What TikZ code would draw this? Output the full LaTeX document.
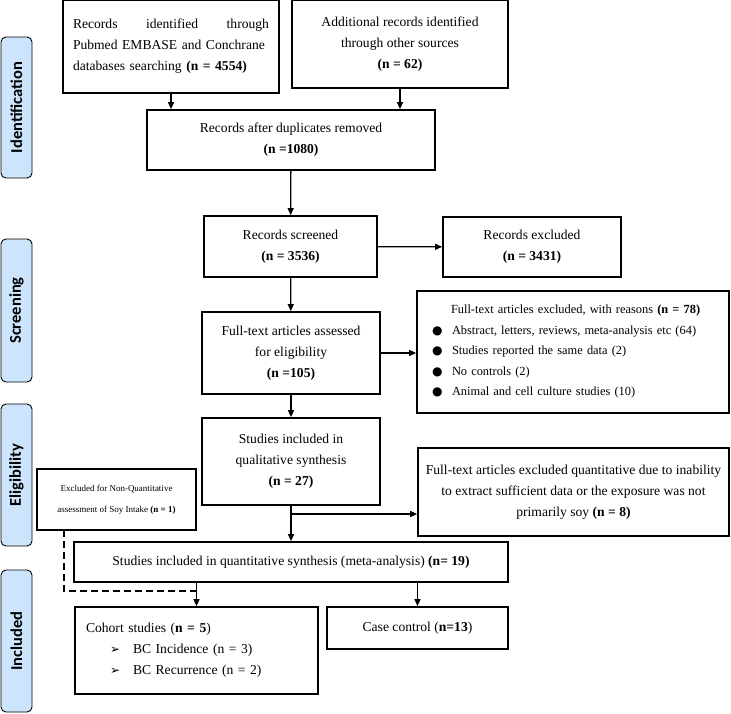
\documentclass[tikz,border=0pt]{standalone}
\usepackage{fontspec}
\setmainfont{Liberation Serif}
\newfontfamily\sidefont{Carlito}
\newfontfamily\symfont{DejaVu Sans}
\usetikzlibrary{positioning, arrows.meta}

\definecolor{sideblue}{RGB}{204,229,252}

\begin{document}
\begin{tikzpicture}[x=1pt, y=-1pt, >={Triangle[width=6pt,length=7pt]},
    box/.style={draw, line width=1.7pt, inner sep=0pt, align=center,
        font=\fontsize{13.6}{21}\selectfont},
    smallbox/.style={box, font=\fontsize{9}{21}\selectfont},
    stage/.style={draw, line width=0.9pt, rounded corners=5pt, fill=sideblue,
        rotate=90, minimum height=31pt, inner sep=0pt,
        font=\sidefont\bfseries\fontsize{16.5}{18}\selectfont},
    link/.style={->, line width=1.3pt},
    ]
    \useasboundingbox (0,0) rectangle (731,713);

    % stages on the left
    \node[stage, minimum width=141pt] (ident) at (16.5,107.5) {Identification};
    \node[stage, minimum width=143pt] (screen) at (16.5,310.5) {Screening};
    \node[stage, minimum width=142pt] (elig) at (16.5,475) {Eligibility};
    \node[stage, minimum width=142pt] (incl) at (16.5,641) {Included};

    % identification
    \node[box, minimum width=216pt, minimum height=93pt, text width=196pt, align=left]
        (search) at (171,46.5)
        {\makebox[196pt][l]{Records\hfill identified\hfill through}\\
        Pubmed EMBASE and Conchrane\\
        databases searching \textbf{(n = 4554)}};
    \node[box, minimum width=216pt, minimum height=88pt] (other) at (400,44)
        {Additional records identified\\through other sources\\\textbf{(n = 62)}};
    \node[box, minimum width=288pt, minimum height=60pt] (dup) at (291,140)
        {Records after duplicates removed\\\textbf{(n =1080)}};

    % screening
    \node[box, minimum width=173pt, minimum height=61pt] (screened) at (290.5,246.5)
        {Records screened\\\textbf{(n = 3536)}};
    \node[box, minimum width=178pt, minimum height=60pt] (excl) at (532,247)
        {Records excluded\\\textbf{(n = 3431)}};
    \node[box, minimum width=178pt, minimum height=82pt] (fulltext) at (291,353)
        {Full-text articles assessed\\for eligibility\\\textbf{(n =105)}};
    \node[box, minimum width=312pt, minimum height=122pt, text width=282pt, align=left,
        font=\fontsize{12.4}{20.5}\selectfont]
        (reasons) at (573,352)
        {\hspace*{19pt}Full-text articles excluded, with reasons \textbf{(n = 78)}\\
        \makebox[20pt][l]{\symfont\fontsize{12}{20}\selectfont ●}Abstract, letters, reviews, meta-analysis etc (64)\\
        \makebox[20pt][l]{\symfont\fontsize{12}{20}\selectfont ●}Studies reported the same data (2)\\
        \makebox[20pt][l]{\symfont\fontsize{12}{20}\selectfont ●}No controls (2)\\
        \makebox[20pt][l]{\symfont\fontsize{12}{20}\selectfont ●}Animal and cell culture studies (10)};

    % eligibility
    \node[box, minimum width=178pt, minimum height=87pt] (quali) at (291,461.5)
        {Studies included in\\qualitative synthesis\\\textbf{(n = 27)}};
    \node[box, minimum width=311pt, minimum height=88pt] (notsoy) at (573.5,492)
        {Full-text articles excluded quantitative due to inability\\to extract sufficient data or the exposure was not\\primarily soy \textbf{(n = 8)}};
    \node[smallbox, minimum width=159pt, minimum height=61pt] (nonquant) at (116.5,499.5)
        {Excluded for Non-Quantitative\\assessment of Soy Intake \textbf{(n = 1)}};

    % included
    \node[box, minimum width=434pt, minimum height=40pt] (quanti) at (291,562)
        {Studies included in quantitative synthesis (meta-analysis) \textbf{(n= 19)}};
    \node[box, minimum width=243pt, minimum height=87pt, text width=221pt, align=left]
        (cohort) at (196.5,650.5)
        {Cohort studies (\textbf{n = 5})\\
        \hspace*{24pt}\makebox[23pt][l]{\symfont\fontsize{12}{21}\selectfont ➢}BC Incidence (n = 3)\\
        \hspace*{24pt}\makebox[23pt][l]{\symfont\fontsize{12}{21}\selectfont ➢}BC Recurrence (n = 2)};
    \node[box, minimum width=181pt, minimum height=42pt] (casectrl) at (417.5,628)
        {Case control (\textbf{n=13})};

    \coordinate (split) at (291,514);
    \coordinate (dashtop) at (64,530);
    \coordinate (dashjoin) at (197,591);

    % arrows
    \draw[link] (search.south) -- (search.south |- dup.north);
    \draw[link] (other.south) -- (other.south |- dup.north);
    \draw[link] (dup) -- (screened);
    \draw[link] (screened) -- (excl);
    \draw[link] (screened) -- (fulltext);
    \draw[link] (fulltext) -- (fulltext -| reasons.west);
    \draw[link] (fulltext) -- (quali);
    \draw[link] (quali) -- (quanti);
    \draw[link] (split) -- (split -| notsoy.west);
    \draw[link] (quanti.south -| cohort.north) -- (cohort.north);
    \draw[link] (quanti.south -| casectrl.north) -- (casectrl.north);
    \draw[dashed, line width=1.3pt, dash pattern=on 7pt off 4pt] (dashtop) |- (dashjoin);
\end{tikzpicture}
\end{document}
